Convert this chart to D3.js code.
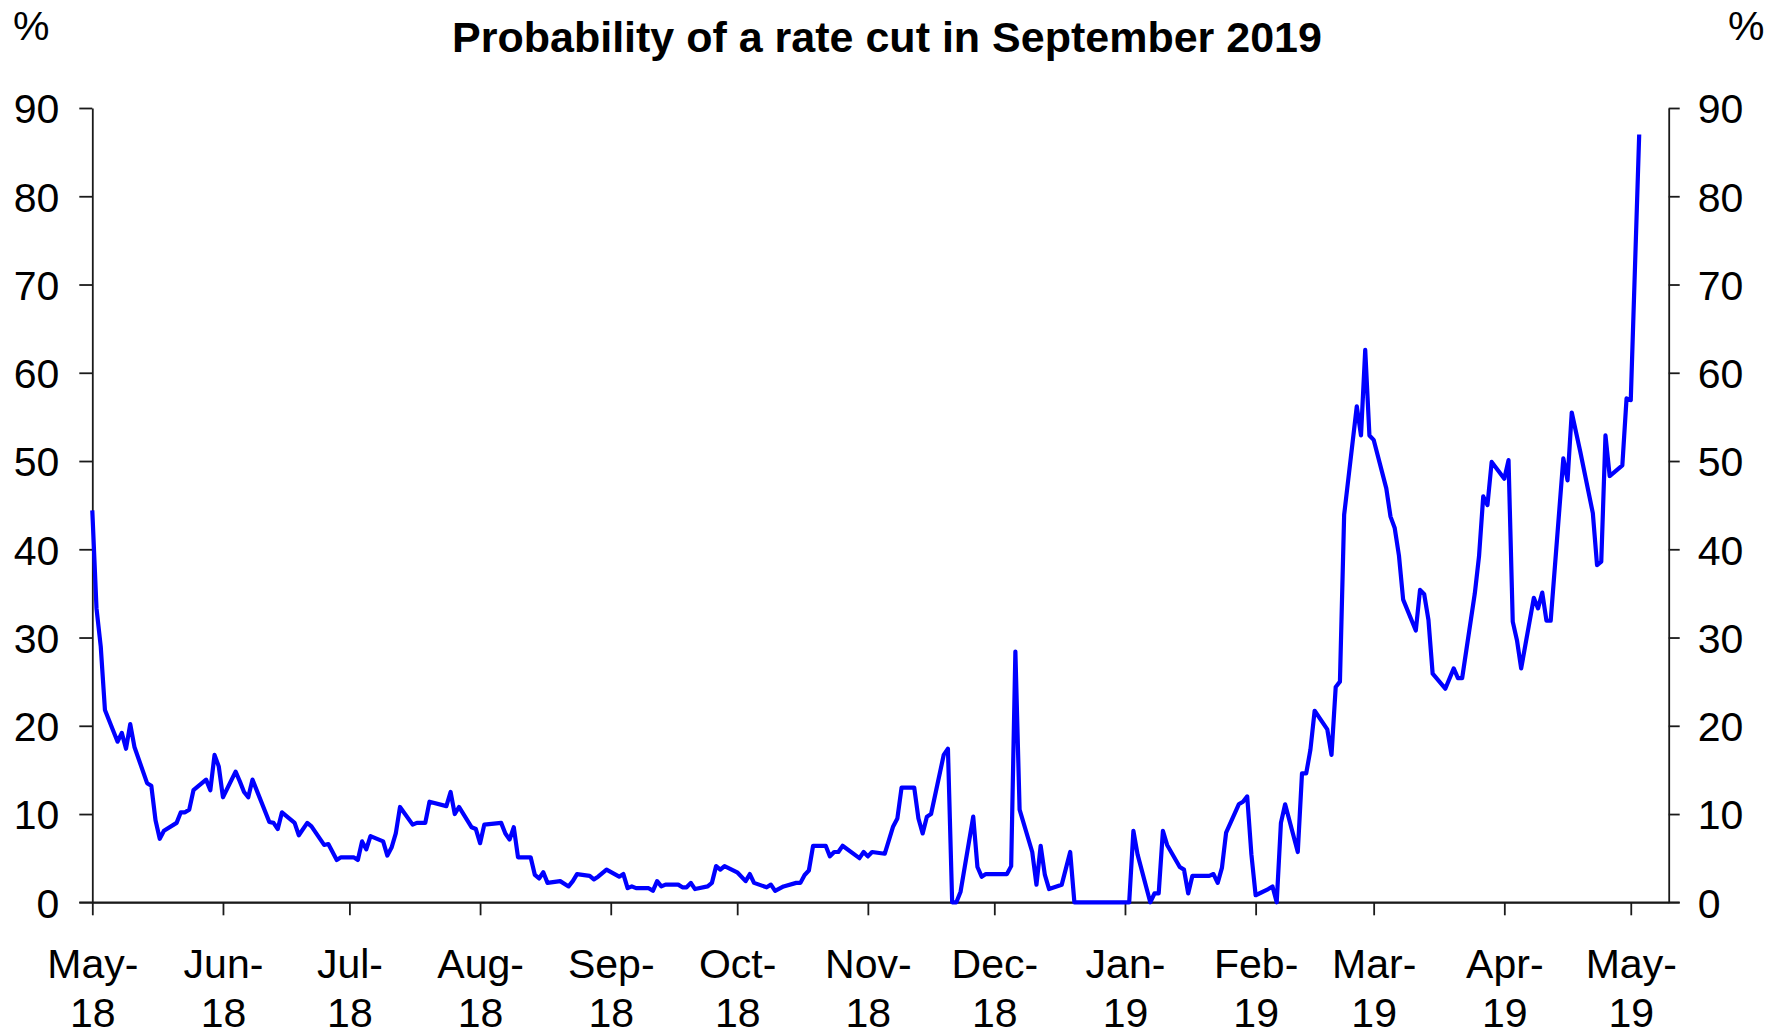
<!DOCTYPE html>
<html>
<head>
<meta charset="utf-8">
<script src="https://cdn.jsdelivr.net/npm/d3@7"></script>
<style>
  html, body { margin: 0; padding: 0; background: #fff; }
  svg { display: block; font-family: "Liberation Sans", Arial, sans-serif; }
</style>
</head>
<body>
<svg id="chart" width="1777" height="1036"></svg>
<script>
// Market-implied probability (%) of a rate cut by September 2019
const dates = [
  "2018-05-01","2018-05-02","2018-05-03","2018-05-04","2018-05-07","2018-05-08","2018-05-09","2018-05-10","2018-05-11",
  "2018-05-14","2018-05-15","2018-05-16","2018-05-17","2018-05-18","2018-05-21","2018-05-22","2018-05-23","2018-05-24",
  "2018-05-25","2018-05-28","2018-05-29","2018-05-30","2018-05-31","2018-06-01","2018-06-04","2018-06-05","2018-06-06",
  "2018-06-07","2018-06-08","2018-06-12","2018-06-13","2018-06-14","2018-06-15","2018-06-18","2018-06-19","2018-06-21",
  "2018-06-22","2018-06-25","2018-06-26","2018-06-28","2018-06-29","2018-07-02","2018-07-03","2018-07-04","2018-07-05",
  "2018-07-06","2018-07-09","2018-07-10","2018-07-11","2018-07-12","2018-07-13","2018-07-16","2018-07-17","2018-07-19",
  "2018-07-20","2018-07-24","2018-07-25","2018-07-26","2018-07-27","2018-07-30","2018-07-31","2018-08-01","2018-08-02",
  "2018-08-06","2018-08-07","2018-08-08","2018-08-09","2018-08-10","2018-08-13","2018-08-14","2018-08-15","2018-08-16",
  "2018-08-17","2018-08-20","2018-08-22","2018-08-23","2018-08-24","2018-08-27","2018-08-28","2018-08-29","2018-08-31",
  "2018-09-03","2018-09-04","2018-09-05","2018-09-06","2018-09-07","2018-09-10","2018-09-11","2018-09-12","2018-09-13",
  "2018-09-14","2018-09-17","2018-09-18","2018-09-19","2018-09-20","2018-09-21","2018-09-24","2018-09-25","2018-09-26",
  "2018-09-27","2018-09-28","2018-10-01","2018-10-03","2018-10-04","2018-10-05","2018-10-08","2018-10-09","2018-10-10",
  "2018-10-12","2018-10-15","2018-10-16","2018-10-17","2018-10-18","2018-10-19","2018-10-22","2018-10-23","2018-10-24",
  "2018-10-25","2018-10-26","2018-10-30","2018-10-31","2018-11-01","2018-11-02","2018-11-05","2018-11-07","2018-11-08",
  "2018-11-09","2018-11-12","2018-11-13","2018-11-14","2018-11-15","2018-11-16","2018-11-19","2018-11-20","2018-11-21",
  "2018-11-22","2018-11-23","2018-11-26","2018-11-27","2018-11-28","2018-11-29","2018-12-04","2018-12-05","2018-12-06",
  "2018-12-07","2018-12-10","2018-12-11","2018-12-12","2018-12-13","2018-12-14","2018-12-17","2018-12-19","2018-12-20",
  "2019-01-02","2019-01-03","2019-01-04","2019-01-07","2019-01-08","2019-01-09","2019-01-10","2019-01-11","2019-01-14",
  "2019-01-15","2019-01-16","2019-01-17","2019-01-21","2019-01-22","2019-01-23","2019-01-24","2019-01-25","2019-01-28",
  "2019-01-29","2019-01-30","2019-01-31","2019-02-01","2019-02-04","2019-02-05","2019-02-06","2019-02-07","2019-02-08",
  "2019-02-11","2019-02-12","2019-02-13","2019-02-14","2019-02-15","2019-02-18","2019-02-19","2019-02-20","2019-02-21",
  "2019-02-22","2019-02-25","2019-02-26","2019-02-27","2019-02-28","2019-03-01","2019-03-04","2019-03-05","2019-03-06",
  "2019-03-07","2019-03-08","2019-03-11","2019-03-12","2019-03-13","2019-03-14","2019-03-15","2019-03-18","2019-03-20",
  "2019-03-21","2019-03-22","2019-03-25","2019-03-26","2019-03-27","2019-03-28","2019-03-29","2019-04-01","2019-04-02",
  "2019-04-03","2019-04-04","2019-04-05","2019-04-08","2019-04-09","2019-04-10","2019-04-11","2019-04-12","2019-04-15",
  "2019-04-16","2019-04-17","2019-04-19","2019-04-22","2019-04-23","2019-04-24","2019-04-25","2019-04-26","2019-04-29",
  "2019-04-30","2019-05-01","2019-05-03"
];

const probability = [
  44.4, 33.3, 29.0, 21.8, 18.2, 19.2, 17.4, 20.2, 17.6,
  13.5, 13.2, 9.3, 7.2, 8.1, 9.0, 10.2, 10.2, 10.5,
  12.7, 13.9, 12.7, 16.7, 15.4, 11.9, 14.8, 13.7, 12.5,
  11.9, 13.9, 9.1, 9.0, 8.3, 10.2, 9.0, 7.6, 9.0,
  8.6, 6.5, 6.6, 4.8, 5.1, 5.1, 4.8, 6.9, 6.0,
  7.5, 6.9, 5.3, 6.2, 7.8, 10.8, 8.8, 9.0, 9.0,
  11.4, 10.9, 12.5, 10.0, 10.8, 8.5, 8.3, 6.7, 8.8,
  9.0, 7.8, 7.1, 8.5, 5.1, 5.1, 3.1, 2.7, 3.4,
  2.2, 2.4, 1.8, 2.4, 3.2, 3.0, 2.6, 2.9, 3.7,
  2.9, 3.2, 1.6, 1.8, 1.6, 1.6, 1.3, 2.4, 1.8,
  2.0, 2.0, 1.7, 1.7, 2.2, 1.5, 1.8, 2.2, 4.1,
  3.7, 4.1, 3.4, 2.4, 3.2, 2.2, 1.7, 2.0, 1.3,
  1.8, 2.2, 2.2, 3.1, 3.6, 6.4, 6.4, 5.2, 5.7,
  5.7, 6.4, 5.0, 5.7, 5.2, 5.7, 5.5, 8.6, 9.5,
  13.0, 13.0, 9.5, 7.8, 9.7, 10.0, 16.7, 17.4, 0.0,
  0.0, 1.2, 9.7, 4.0, 2.9, 3.2, 3.2, 4.1, 28.4,
  10.5, 5.7, 2.0, 6.4, 3.1, 1.5, 2.0, 5.7, 0.0,
  0.0, 8.1, 5.4, 0.0, 1.0, 1.0, 8.1, 6.5, 4.0,
  3.7, 1.0, 3.0, 3.0, 3.2, 2.2, 3.9, 7.9, 11.1,
  11.4, 12.0, 5.4, 0.8, 1.5, 1.8, 0.0, 9.0, 11.1,
  5.7, 14.6, 14.6, 17.3, 21.7, 19.6, 16.7, 24.4, 25.0,
  43.9, 56.2, 52.9, 62.6, 52.9, 52.4, 46.9, 43.7, 42.4,
  39.3, 34.3, 30.8, 35.4, 34.9, 32.0, 25.9, 24.2, 26.5,
  25.4, 25.4, 35.0, 39.2, 46.0, 45.0, 49.9, 48.0, 50.1,
  31.8, 29.7, 26.5, 34.5, 33.3, 35.1, 31.9, 31.9, 50.3,
  47.8, 55.5, 51.1, 44.1, 38.2, 38.6, 52.9, 48.3, 49.5,
  57.1, 56.9, 87.0
];

// Axis ticks and labels
const monthStarts = [
  "2018-05-01","2018-06-01","2018-07-01","2018-08-01","2018-09-01","2018-10-01","2018-11-01",
  "2018-12-01","2019-01-01","2019-02-01","2019-03-01","2019-04-01","2019-05-01"
];
const monthLabels = ["May-","Jun-","Jul-","Aug-","Sep-","Oct-","Nov-","Dec-","Jan-","Feb-","Mar-","Apr-","May-"];
const yearLabels  = ["18","18","18","18","18","18","18","18","19","19","19","19","19"];
const yTicks = [0, 10, 20, 30, 40, 50, 60, 70, 80, 90];

const chartTitle = "Probability of a rate cut in September 2019";
const unitLabel = "%";

const parse = d3.utcParse("%Y-%m-%d");
const series = dates.map((d, i) => ({ date: parse(d), value: probability[i] }));
const tickDates = monthStarts.map(parse);

const svg = d3.select("#chart");
const plotLeft = 92.3, plotRight = 1668.7, plotTop = 108, plotBottom = 902.3;

const x = d3.scaleUtc()
  .domain([parse("2018-05-01"), parse("2019-05-10")])
  .range([plotLeft, plotRight]);
const y = d3.scaleLinear().domain([0, 90]).range([plotBottom, plotTop]);

const fontSize = 41;
const axisColor = "#1a1a1a";

// Left value axis
const gLeft = svg.append("g")
  .attr("transform", `translate(${plotLeft},0)`)
  .call(d3.axisLeft(y).tickValues(yTicks).tickSize(13).tickSizeOuter(0).tickPadding(20));

// Right value axis
const gRight = svg.append("g")
  .attr("transform", `translate(${plotRight},0)`)
  .call(d3.axisRight(y).tickValues(yTicks).tickSize(11).tickSizeOuter(0).tickPadding(18));

// Date axis with two-line month/year labels
const gBottom = svg.append("g")
  .attr("transform", `translate(0,${plotBottom})`)
  .call(d3.axisBottom(x).tickValues(tickDates).tickSize(13).tickSizeOuter(0).tickFormat(() => ""));

gBottom.selectAll(".tick").each(function (d, i) {
  const t = d3.select(this).select("text")
    .attr("y", 0).attr("dy", null);
  t.append("tspan").attr("x", 0).attr("y", 76).text(monthLabels[i]);
  t.append("tspan").attr("x", 0).attr("y", 125).text(yearLabels[i]);
});

[gLeft, gRight, gBottom].forEach(g => {
  g.selectAll("path.domain").attr("stroke", axisColor).attr("stroke-width", 1.8);
  g.selectAll(".tick line").attr("stroke", axisColor).attr("stroke-width", 1.8);
  g.selectAll("text")
    .attr("fill", "#000")
    .style("font-family", '"Liberation Sans", Arial, sans-serif')
    .style("font-size", fontSize + "px");
});
gLeft.selectAll(".tick text").attr("dy", "0.36em");
gRight.selectAll(".tick text").attr("dy", "0.36em");

// Zero line extended across the tick stubs on both sides
svg.append("line")
  .attr("x1", plotLeft - 13).attr("x2", plotRight + 11)
  .attr("y1", y(0)).attr("y2", y(0))
  .attr("stroke", axisColor).attr("stroke-width", 1.8);

// Probability line
const line = d3.line()
  .x(d => x(d.date))
  .y(d => y(d.value));

svg.append("path")
  .datum(series)
  .attr("fill", "none")
  .attr("stroke", "#0000ff")
  .attr("stroke-width", 4.2)
  .attr("stroke-linejoin", "round")
  .attr("d", line);

// Title and unit labels
svg.append("text")
  .attr("x", 887).attr("y", 51.5)
  .attr("text-anchor", "middle")
  .style("font-size", "43px").style("font-weight", "bold")
  .text(chartTitle);

svg.append("text")
  .attr("x", 13).attr("y", 40)
  .style("font-size", fontSize + "px")
  .text(unitLabel);

svg.append("text")
  .attr("x", 1728).attr("y", 40)
  .style("font-size", fontSize + "px")
  .text(unitLabel);
</script>
</body>
</html>
